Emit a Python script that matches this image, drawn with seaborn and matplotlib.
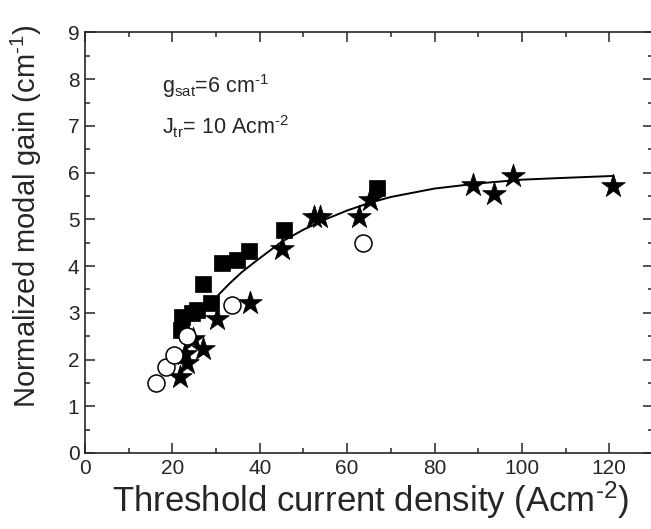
import matplotlib
matplotlib.use("Agg")
import matplotlib.pyplot as plt
from matplotlib.ticker import MultipleLocator
import seaborn as sns
import pandas as pd

# Filled squares
sq_x = [21.9, 22.2, 24.4, 25.6, 27.0, 28.9, 31.3, 34.7, 37.6, 45.6, 66.9]
sq_y = [2.63, 2.92, 2.99, 3.05, 3.62, 3.22, 4.06, 4.13, 4.33, 4.78, 5.67]

# Filled stars
st_x = [21.8, 23.3, 22.9, 24.8, 27.1, 30.2, 37.8, 45.0, 52.3, 53.8, 62.6, 65.3, 88.9, 93.7, 97.9, 120.8]
st_y = [1.63, 1.92, 2.12, 2.45, 2.22, 2.86, 3.20, 4.36, 5.06, 5.06, 5.06, 5.42, 5.74, 5.55, 5.93, 5.72]

# Open circles
ci_x = [16.3, 18.5, 20.4, 23.4, 33.6, 63.7]
ci_y = [1.49, 1.85, 2.10, 2.50, 3.16, 4.49]

# Fit curve
fit_x = [30.5, 33, 36, 40, 45, 50, 55, 60, 65, 70, 80, 90, 100, 110, 121]
fit_y = [3.38, 3.62, 3.88, 4.17, 4.52, 4.78, 5.00, 5.19, 5.35, 5.48, 5.66, 5.77, 5.85, 5.89, 5.93]

x_ticks = [0, 20, 40, 60, 80, 100, 120]
y_ticks = [0, 1, 2, 3, 4, 5, 6, 7, 8, 9]

sns.set_style("ticks")
plt.rcParams['font.family'] = ['Liberation Sans', 'DejaVu Sans']
plt.rcParams['mathtext.fontset'] = 'custom'
plt.rcParams['mathtext.rm'] = 'Liberation Sans'
plt.rcParams['mathtext.it'] = 'Liberation Sans'

fig = plt.figure(figsize=(6.51, 5.29), dpi=100)
ax = fig.add_axes([85/651, (529-453)/529, (653-85)/651, (453-32.5)/529])

df_fit = pd.DataFrame({"x": fit_x, "y": fit_y})
sns.lineplot(data=df_fit, x="x", y="y", ax=ax, color="black", linewidth=1.4, sort=True)

sns.scatterplot(x=sq_x, y=sq_y, ax=ax, marker="s", s=135, color="black",
                edgecolor="black", linewidth=0.5, zorder=3)
sns.scatterplot(x=st_x, y=st_y, ax=ax, marker="*", s=320, color="black",
                edgecolor="black", linewidth=0.5, zorder=4)
sns.scatterplot(x=ci_x, y=ci_y, ax=ax, marker="o", s=150, facecolor="white",
                edgecolor="black", linewidth=1.1, zorder=5)

ax.set_xlim(0, 130)
ax.set_ylim(0, 9)
ax.set_xticks(x_ticks)
ax.set_yticks(y_ticks)
ax.xaxis.set_minor_locator(MultipleLocator(10))
ax.yaxis.set_minor_locator(MultipleLocator(0.5))
ax.tick_params(which="both", direction="in", top=True, right=True, width=1.1)
ax.tick_params(which="major", length=7, labelsize=15, pad=4)
ax.tick_params(which="minor", length=3.5)
for sp in ax.spines.values():
    sp.set_linewidth(1.2)
    sp.set_visible(True)

ax.set_xlabel("Threshold current density (Acm$^{\\text{-2}}$)", fontsize=25)
ax.set_ylabel("Normalized modal gain (cm$^{\\text{-1}}$)", fontsize=21)
ax.xaxis.set_label_coords(0.502, -0.062)
ax.yaxis.set_label_coords(-0.072, 0.564)

ax.text(17.6, 7.71, "g$_{\\mathregular{sat}}$=6 cm$^{\\text{-1}}$", fontsize=15.5, ha="left", va="baseline")
ax.text(17.6, 6.81, "J$_{\\mathregular{tr}}$= 10 Acm$^{\\text{-2}}$", fontsize=15.5, ha="left", va="baseline")

fig.savefig("out.png", dpi=100)
